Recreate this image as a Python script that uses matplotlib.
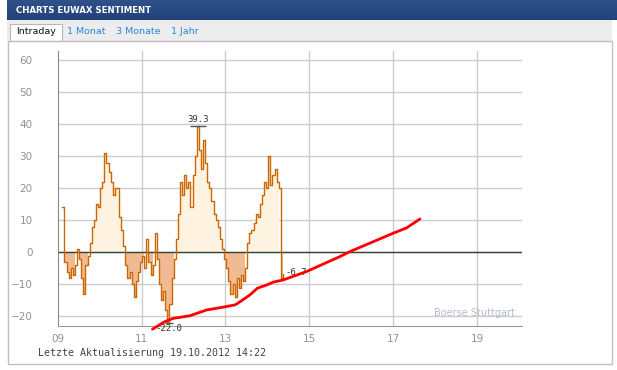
import matplotlib
matplotlib.use("Agg")
import matplotlib.pyplot as plt
import numpy as np
from matplotlib.patches import Rectangle
from matplotlib.colors import LinearSegmentedColormap

W, H = 617, 370

# sentiment readings, every 3 minutes from 09:07 to 14:22
start_min = 7
step_min = 3
sentiment = [14, -3, -6, -8, -5, -7, -4, 1, -2, -8,
             -13, -4, -1, 3, 8, 10, 15, 14, 20, 22,
             31, 28, 25, 22, 18, 20, 20, 11, 7, 2,
             -4, -8, -6, -10, -14, -9, -6, -3, -1, -5,
             4, -3, -7, -4, 6, -2, -10, -15, -12, -18,
             -22, -16, -8, -2, 4, 12, 22, 18, 24, 20,
             22, 14, 24, 30, 39.3, 32, 26, 35, 28, 22,
             20, 16, 12, 10, 8, 4, 1, -2, -5, -9,
             -13, -10, -14, -8, -11, -7, -9, -5, 3, 6,
             7, 9, 12, 11, 15, 18, 22, 20, 30, 21,
             24, 26, 22, 20, -8, -6.7]
hours = 9 + (start_min + step_min * np.arange(len(sentiment))) / 60.0

# trend line (hour, value)
trend_h = [11.26, 11.56, 11.76, 12.15, 12.55, 12.95, 13.23, 13.35, 13.58, 13.76,
           13.98, 14.14, 14.38, 14.93, 15.73, 15.96, 17.0, 17.31, 17.63]
trend_v = [-24.0, -21.6, -20.6, -19.8, -18.0, -17.1, -16.4, -15.4, -13.3, -11.2,
           -10.2, -9.3, -8.6, -6.0, -1.3, 0.2, 6.0, 7.6, 10.4]

xticks = [9, 11, 13, 15, 17, 19]
xlabels = ["09", "11", "13", "15", "17", "19"]
yticks = [-20, -10, 0, 10, 20, 30, 40, 50, 60]
tabs = ["Intraday", "1 Monat", "3 Monate", "1 Jahr"]
tab_x = [16, 67, 116, 171]


def fx(x):
    return x / W


def fy(y):
    return 1 - y / H


fig = plt.figure(figsize=(W / 100, H / 100), dpi=100)
fig.patch.set_facecolor("white")

# header bar
hdr = fig.add_axes([fx(7), fy(20), fx(610), 20 / H])
cmap = LinearSegmentedColormap.from_list("hdr", ["#2f5089", "#23427a"])
hdr.imshow(np.linspace(0, 1, 20).reshape(-1, 1), aspect="auto", cmap=cmap,
           extent=[0, 1, 0, 1])
hdr.axis("off")
fig.text(fx(16), fy(10.5), "CHARTS EUWAX SENTIMENT", color="white",
         fontsize=6.2, fontweight="bold", va="center", ha="left")

# tab row
fig.patches.append(Rectangle((fx(7), fy(41)), fx(605), 21 / H,
                             transform=fig.transFigure, facecolor="#ececec",
                             edgecolor="none", zorder=0))
fig.patches.append(Rectangle((fx(9.5), fy(41)), fx(52), 17 / H,
                             transform=fig.transFigure, facecolor="white",
                             edgecolor="#b8b8b8", lw=0.8, zorder=1))
for i, t in enumerate(tabs):
    fig.text(fx(tab_x[i]), fy(32), t, fontsize=6.8, va="center", ha="left",
             color="#111111" if i == 0 else "#2a86d8")

# panel border
fig.patches.append(Rectangle((fx(7.5), fy(364)), fx(604), 323 / H,
                             transform=fig.transFigure, facecolor="none",
                             edgecolor="#c8bcc8", lw=1, zorder=1))

# chart
ax = fig.add_axes([fx(57.5), fy(326), fx(522 - 57.5), (326 - 51) / H])
ax.set_xlim(9, 9 + (522 - 57.5) / 42)
ax.set_ylim((252.3 - 326) / 3.205, (252.3 - 51) / 3.205)

vals = np.array(sentiment)
ax.fill_between(hours, 0, vals, where=vals >= 0, step="post",
                facecolor="#fdf3e0", edgecolor="none", interpolate=False)
ax.fill_between(hours, 0, vals, where=vals <= 0, step="post",
                facecolor="#f2ba92", edgecolor="none", interpolate=False)
ax.plot(hours, vals, drawstyle="steps-post", color="#cc6600", lw=1.0, zorder=3)

ax.plot(trend_h, trend_v, color="#ff0000", lw=2.0, zorder=4, clip_on=False,
        solid_capstyle="round", solid_joinstyle="round")

for y in yticks:
    ax.axhline(y, color="#cccccc", lw=1, zorder=0)
ax.axhline(0, color="#334433", lw=1, zorder=2)
for x in xticks[1:]:
    ax.axvline(x, color="#cccccc", lw=1, zorder=0)

# labels at max, min and last value
i_max = int(np.argmax(vals))
i_min = int(np.argmin(vals))
mono = "DejaVu Sans Mono"
ax.plot(hours[i_max] + 0.04, vals[i_max], marker="_", ms=11, color="#555555",
        zorder=5)
ax.text(hours[i_max] + 0.04, vals[i_max] + 0.6, "39.3", fontsize=6.5,
        family=mono, color="#333333", ha="center", va="bottom")
ax.plot(hours[i_min] + 0.04, vals[i_min], marker="_", ms=6, color="#555555",
        zorder=5)
ax.text(hours[i_min] + 0.04, vals[i_min] - 0.3, "-22.0", fontsize=6.5,
        family=mono, color="#333333", ha="center", va="top", clip_on=False)
ax.text(hours[-1] + 0.05, vals[-1] + 0.4, "-6.7", fontsize=6.5,
        family=mono, color="#333333", ha="left", va="center")

ax.text(0.985, 0.03, "Boerse Stuttgart", transform=ax.transAxes, fontsize=7,
        color="#b4bccb", ha="right", va="bottom")

ax.set_xticks(xticks)
ax.set_xticklabels(xlabels)
ax.set_yticks(yticks)
ax.tick_params(length=0, labelsize=7.5, labelcolor="#8c968c", pad=6)
ax.tick_params(axis="y", pad=18)
for s in ["top", "right"]:
    ax.spines[s].set_visible(False)
ax.spines["left"].set_color("#888888")
ax.spines["bottom"].set_color("#999999")

fig.text(fx(38), fy(353), "Letzte Aktualisierung 19.10.2012 14:22",
         fontsize=7.2, family=mono, color="#444444", va="center", ha="left")

fig.savefig("out.png", dpi=100)
